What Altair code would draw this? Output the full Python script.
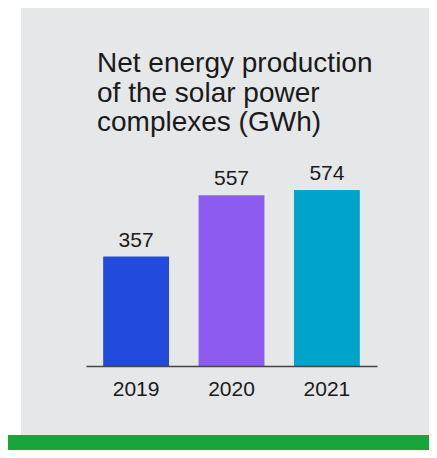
import altair as alt
import pandas as pd

years = ["2019", "2020", "2021"]
values = [357, 557, 574]
bar_colors = ["#224ADD", "#8C5CF1", "#00A3C9"]
title_lines = ["Net energy production", "of the solar power", "complexes (GWh)"]

df = pd.DataFrame({"year": years, "value": values, "color": bar_colors})
one = pd.DataFrame({"k": [0]})

W, H = 291, 184
PL, PT = 78, 174
TW, TH = 421, 442
FONT = "Liberation Sans"
TXT = "#1a1a1a"

panel = alt.Chart(one).mark_rect(color="#E6E7E9").encode(
    x=alt.value(13 - PL), x2=alt.value(TW - PL),
    y=alt.value(-PT), y2=alt.value(427 - PT),
)
band = alt.Chart(one).mark_rect(color="#17A539").encode(
    x=alt.value(-PL), x2=alt.value(TW - PL),
    y=alt.value(427 - PT), y2=alt.value(TH - PT),
)

xenc = alt.X(
    "year:N", sort=years,
    scale=alt.Scale(paddingInner=0.31, paddingOuter=0.18),
    axis=alt.Axis(title=None, labelAngle=0, ticks=False, labelPadding=12,
                  labelFontSize=21, labelFont=FONT, labelColor=TXT,
                  domainColor="#444444", domainWidth=1.5, grid=False, zindex=1),
)
yenc = alt.Y("value:Q", scale=alt.Scale(domain=[0, 600]), axis=None)

bars = alt.Chart(df).mark_bar().encode(
    x=xenc, y=yenc, color=alt.Color("color:N", scale=None)
)
labels = alt.Chart(df).mark_text(
    baseline="alphabetic", dy=-10, fontSize=21, font=FONT, color=TXT
).encode(x=xenc, y=yenc, text="value:Q")

chart = alt.layer(panel, band, bars, labels).properties(
    width=W, height=H,
    autosize=alt.AutoSizeParams(type="none"),
    padding={"left": PL, "top": PT, "right": TW - PL - W, "bottom": TH - PT - H},
    background="#ffffff",
    title=alt.TitleParams(
        text=title_lines, anchor="start", frame="group", fontSize=28,
        font=FONT, fontWeight="normal", color=TXT, lineHeight=29.5,
        offset=-129, dx=11, zindex=1,
    ),
).configure_view(stroke=None)

chart.save("out.html", embed_options={"renderer": "svg", "actions": False})
